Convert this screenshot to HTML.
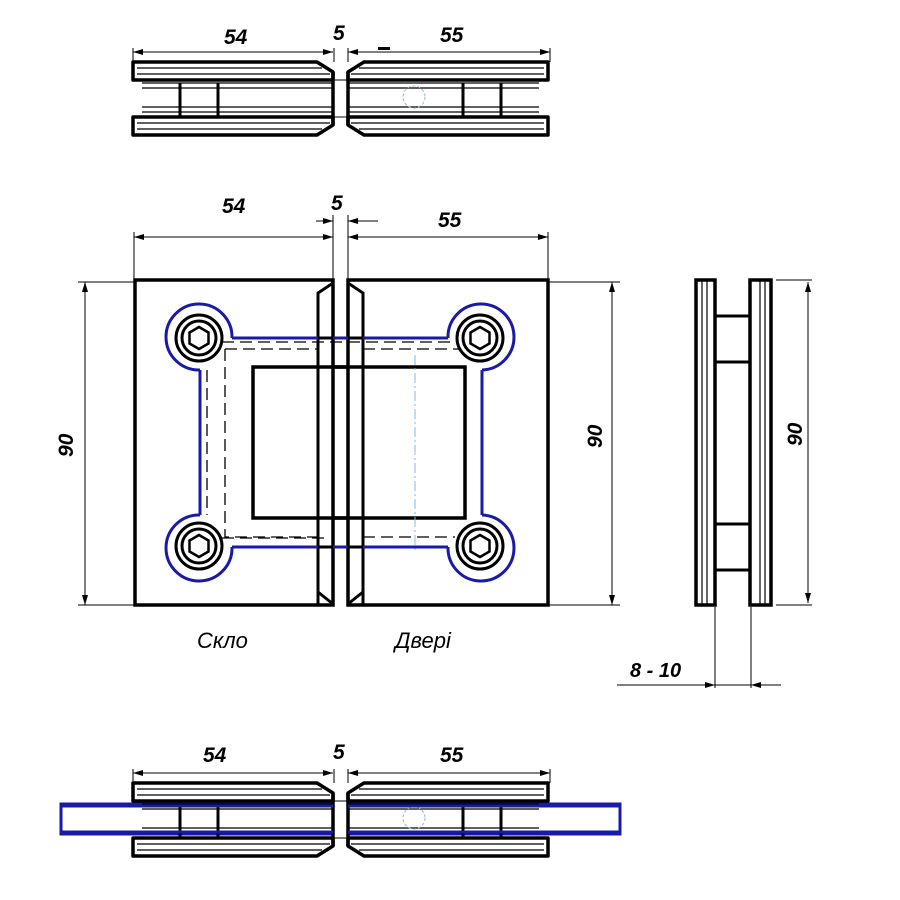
<!DOCTYPE html>
<html><head><meta charset="utf-8"><style>
html,body{margin:0;padding:0;background:#fff}
svg{display:block}
text{font-family:"Liberation Sans",sans-serif;font-weight:bold;font-style:italic;fill:#000}
</style></head><body>
<svg width="900" height="900" viewBox="0 0 900 900" xmlns="http://www.w3.org/2000/svg">
<defs>
<marker id="a" viewBox="0 0 10 6" refX="10" refY="3" markerWidth="10" markerHeight="6" orient="auto-start-reverse" markerUnits="userSpaceOnUse"><path d="M0,0 L10,3 L0,6 Z" fill="#000"/></marker>
<g id="half">
<path d="M133,62 H317 L333,72 V80 H133 Z" fill="#fff" stroke="#000" stroke-width="3.5" stroke-linejoin="round"/>
<path d="M133,135 H317 L333,125 V117 H133 Z" fill="#fff" stroke="#000" stroke-width="3.5" stroke-linejoin="round"/>
<line x1="137" y1="68" x2="322" y2="68" stroke="#000" stroke-width="1.2"/>
<line x1="137" y1="74" x2="330" y2="74" stroke="#000" stroke-width="1.2"/>
<line x1="137" y1="123" x2="330" y2="123" stroke="#000" stroke-width="1.2"/>
<line x1="137" y1="129" x2="322" y2="129" stroke="#000" stroke-width="1.2"/>
<line x1="333" y1="72" x2="333" y2="125" stroke="#000" stroke-width="3.5"/>
<line x1="142" y1="83" x2="333" y2="83" stroke="#000" stroke-width="1.2"/>
<line x1="142" y1="88" x2="333" y2="88" stroke="#000" stroke-width="1.2"/>
<line x1="142" y1="107" x2="333" y2="107" stroke="#000" stroke-width="1.2"/>
<line x1="142" y1="112" x2="333" y2="112" stroke="#000" stroke-width="1.2"/>
<line x1="180" y1="83" x2="180" y2="117" stroke="#000" stroke-width="3"/>
<line x1="218" y1="83" x2="218" y2="117" stroke="#000" stroke-width="3"/>
</g>
<g id="view">
<use href="#half"/>
<use href="#half" transform="translate(681,0) scale(-1,1)"/>
<line x1="333" y1="80" x2="348" y2="80" stroke="#000" stroke-width="1"/>
<line x1="333" y1="117" x2="348" y2="117" stroke="#000" stroke-width="1"/>
<circle cx="414" cy="97" r="11" fill="none" stroke="#9bc" stroke-width="1" stroke-dasharray="3,2"/>
<line x1="133" y1="52" x2="333" y2="52" stroke="#000" stroke-width="1" marker-start="url(#a)" marker-end="url(#a)"/>
<line x1="348" y1="52" x2="550" y2="52" stroke="#000" stroke-width="1" marker-start="url(#a)" marker-end="url(#a)"/>
<line x1="133" y1="48" x2="133" y2="62" stroke="#000" stroke-width="1"/>
<line x1="550" y1="48" x2="550" y2="62" stroke="#000" stroke-width="1"/>
<line x1="334" y1="48" x2="334" y2="62" stroke="#000" stroke-width="1"/>
<line x1="348" y1="48" x2="348" y2="62" stroke="#000" stroke-width="1"/>
</g>
</defs>

<use href="#view"/>
<rect x="378" y="47" width="12" height="3" fill="#000"/>
<text x="224" y="44" font-size="21">54</text>
<text x="333" y="40" font-size="21">5</text>
<text x="440" y="42" font-size="21">55</text>

<g fill="none" stroke="#000">
<line x1="134" y1="232" x2="134" y2="280" stroke-width="1"/>
<line x1="548" y1="232" x2="548" y2="280" stroke-width="1"/>
<line x1="333" y1="215" x2="333" y2="280" stroke-width="1"/>
<line x1="348" y1="215" x2="348" y2="280" stroke-width="1"/>
<line x1="134" y1="237" x2="333" y2="237" stroke-width="1" marker-start="url(#a)" marker-end="url(#a)"/>
<line x1="348" y1="237" x2="548" y2="237" stroke-width="1" marker-start="url(#a)" marker-end="url(#a)"/>
<line x1="316" y1="221" x2="333" y2="221" stroke-width="1" marker-end="url(#a)"/>
<line x1="378" y1="221" x2="348" y2="221" stroke-width="1" marker-end="url(#a)"/>
<line x1="78" y1="282" x2="134" y2="282" stroke-width="1"/>
<line x1="78" y1="605" x2="134" y2="605" stroke-width="1"/>
<line x1="85" y1="282" x2="85" y2="605" stroke-width="1" marker-start="url(#a)" marker-end="url(#a)"/>
<line x1="548" y1="282" x2="620" y2="282" stroke-width="1"/>
<line x1="548" y1="605" x2="620" y2="605" stroke-width="1"/>
<line x1="612" y1="282" x2="612" y2="605" stroke-width="1" marker-start="url(#a)" marker-end="url(#a)"/>

<rect x="135" y="280" width="198" height="325" stroke-width="3.5"/>
<rect x="348" y="280" width="200" height="325" stroke-width="3.5"/>
<path d="M318,605 V293 L333,283 M318,592 L333,604" stroke-width="3"/>
<path d="M363,605 V293 L348,283 M363,592 L348,604" stroke-width="3"/>
<rect x="253" y="367" width="212" height="151" stroke-width="3.5"/>
<line x1="333" y1="367" x2="348" y2="367" stroke-width="3.5"/>
<line x1="333" y1="518" x2="348" y2="518" stroke-width="3.5"/>

<g stroke-width="1.3" stroke-dasharray="12,6">
<path d="M222,342 H467 M207,370 V515 M222,538 H330"/>
<path d="M225,349 V537 H318 M225,349 H318 M363,349 H465 M363,537 H455"/>
</g>
<line x1="415" y1="355" x2="415" y2="550" stroke="#8bd" stroke-width="1" stroke-dasharray="10,3,2,3"/>
<path d="M232,338 H448 M200,370 V515 M232,547 H448 M482,370 V515" stroke="#1a1aa8" stroke-width="3"/>
<path d="M232,338 A33,33 0 1 0 200,370" stroke="#1a1aa8" stroke-width="3"/>
<path d="M448,338 A33,33 0 1 1 482,370" stroke="#1a1aa8" stroke-width="3"/>
<path d="M232,547 A33,33 0 1 1 200,515" stroke="#1a1aa8" stroke-width="3"/>
<path d="M448,547 A33,33 0 1 0 482,515" stroke="#1a1aa8" stroke-width="3"/>
<path d="M318,338 H333 M348,338 H363 M318,547 H333 M348,547 H363" stroke="#000" stroke-width="3"/>
</g>
<g fill="#fff" stroke="#000" stroke-width="3">
<circle cx="199" cy="338" r="23"/><circle cx="199" cy="338" r="17"/>
<circle cx="480" cy="338" r="23"/><circle cx="480" cy="338" r="17"/>
<circle cx="199" cy="546" r="23"/><circle cx="199" cy="546" r="17"/>
<circle cx="480" cy="546" r="23"/><circle cx="480" cy="546" r="17"/>
</g>
<g fill="none" stroke="#000" stroke-width="2.5">
<polygon points="199,327 208.5,332.5 208.5,343.5 199,349 189.5,343.5 189.5,332.5"/>
<polygon points="480,327 489.5,332.5 489.5,343.5 480,349 470.5,343.5 470.5,332.5"/>
<polygon points="199,535 208.5,540.5 208.5,551.5 199,557 189.5,551.5 189.5,540.5"/>
<polygon points="480,535 489.5,540.5 489.5,551.5 480,557 470.5,551.5 470.5,540.5"/>
</g>
<text x="222" y="213" font-size="21">54</text>
<text x="331" y="210" font-size="21">5</text>
<text x="438" y="227" font-size="21">55</text>
<text transform="translate(73,457) rotate(-90)" font-size="21">90</text>
<text transform="translate(602,448) rotate(-90)" font-size="21">90</text>
<text transform="translate(802,446) rotate(-90)" font-size="21">90</text>
<text x="197" y="648" font-size="22" style="font-weight:normal">Скло</text>
<text x="395" y="648" font-size="22" style="font-weight:normal">Двері</text>

<g fill="none" stroke="#000">
<rect x="696" y="280" width="19" height="325" stroke-width="3.5"/>
<line x1="702" y1="281" x2="702" y2="604" stroke-width="1.2"/>
<line x1="707" y1="281" x2="707" y2="604" stroke-width="1.2"/>
<rect x="750" y="280" width="21" height="325" stroke-width="3.5"/>
<line x1="760" y1="281" x2="760" y2="604" stroke-width="1.2"/>
<line x1="765" y1="281" x2="765" y2="604" stroke-width="1.2"/>
<path d="M715,316 H750 M715,362 H750 M715,524 H750 M715,570 H750" stroke-width="3"/>
<line x1="776" y1="280" x2="812" y2="280" stroke-width="1"/>
<line x1="776" y1="605" x2="812" y2="605" stroke-width="1"/>
<line x1="808" y1="282" x2="808" y2="603" stroke-width="1" marker-start="url(#a)" marker-end="url(#a)"/>
<line x1="715" y1="607" x2="715" y2="688" stroke-width="1"/>
<line x1="751" y1="607" x2="751" y2="688" stroke-width="1"/>
<line x1="617" y1="685" x2="715" y2="685" stroke-width="1" marker-end="url(#a)"/>
<line x1="715" y1="685" x2="751" y2="685" stroke-width="1"/>
<line x1="781" y1="685" x2="751" y2="685" stroke-width="1" marker-end="url(#a)"/>
</g>
<text x="630" y="677" font-size="20">8 - 10</text>

<rect x="61" y="804" width="272" height="30" fill="none" stroke="#1a1aa8" stroke-width="3"/>
<rect x="348" y="804" width="272" height="30" fill="none" stroke="#1a1aa8" stroke-width="3"/>
<g transform="translate(0,721)"><use href="#view"/></g>
<path d="M61,805.5 V832.5 M620,805.5 V832.5" stroke="#1a1aa8" stroke-width="3"/>
<path d="M61,806 H333 M61,832 H333 M348,806 H620 M348,832 H620" stroke="#1a1aa8" stroke-width="3"/>
<text x="203" y="762" font-size="21">54</text>
<text x="333" y="759" font-size="21">5</text>
<text x="440" y="762" font-size="21">55</text>
</svg>
</body></html>
